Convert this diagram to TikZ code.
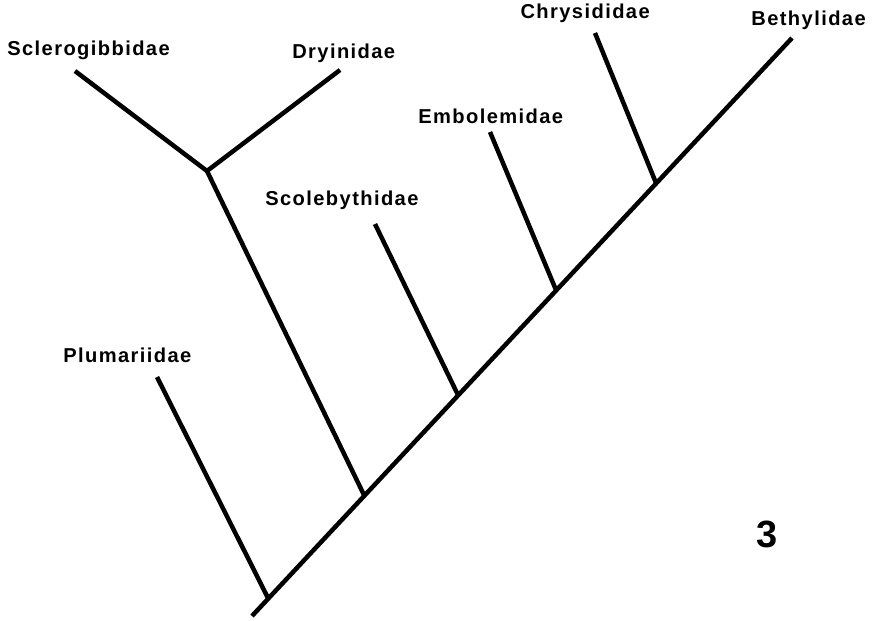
\documentclass[tikz,border=0pt]{standalone}
\usepackage{fontspec}
\setmainfont{Liberation Sans}[LetterSpace=7]
\newfontfamily\numfont{Liberation Sans}
\usepackage{tikz}
\usetikzlibrary{positioning}

\begin{document}
\begin{tikzpicture}[
  x=0.025cm,y=-0.025cm,
  taxon/.style={anchor=base west,inner sep=0pt,font=\fontsize{14.3}{16}\selectfont\bfseries},
  branch/.style={line width=3.2pt,line cap=butt}
]
\useasboundingbox (0,0) rectangle (876,620);
% backbone
\coordinate (root) at (252,616);
\coordinate (top) at (792,38);
\coordinate (jPlu) at (268,598);
\coordinate (jDry) at (364,495);
\coordinate (jSco) at (458,395);
\coordinate (jEmb) at (556,290);
\coordinate (jChr) at (656,183);
\coordinate (split) at (207,171);
% branch tips
\coordinate (tPlu) at (157,377);
\coordinate (tScl) at (75,71);
\coordinate (tDry) at (340,70);
\coordinate (tSco) at (375,224);
\coordinate (tEmb) at (490,132);
\coordinate (tChr) at (595,33);
% labels
\node[taxon] (Scl) at (7,55) {Sclerogibbidae};
\node[taxon] (Dry) at (292,58) {Dryinidae};
\node[taxon,anchor=base east] (Chr) at (650,18) {Chrysididae};
\node[taxon,anchor=base east] (Bet) at (866,25) {Bethylidae};
\node[taxon] (Emb) at (418,123) {Embolemidae};
\node[taxon] (Sco) at (265,205) {Scolebythidae};
\node[taxon] (Plu) at (63,362) {Plumariidae};
\node[anchor=base west,inner sep=0pt,font=\numfont\fontsize{27}{27}\selectfont\bfseries] (fig) at (756,547) {3};

\draw[branch] (root) -- (top);
\draw[branch] (jPlu) -- (tPlu);
\draw[branch] (jDry) -- (split);
\draw[branch] (tScl) -- (split) -- (tDry);
\draw[branch] (jSco) -- (tSco);
\draw[branch] (jEmb) -- (tEmb);
\draw[branch] (jChr) -- (tChr);
\end{tikzpicture}
\end{document}
